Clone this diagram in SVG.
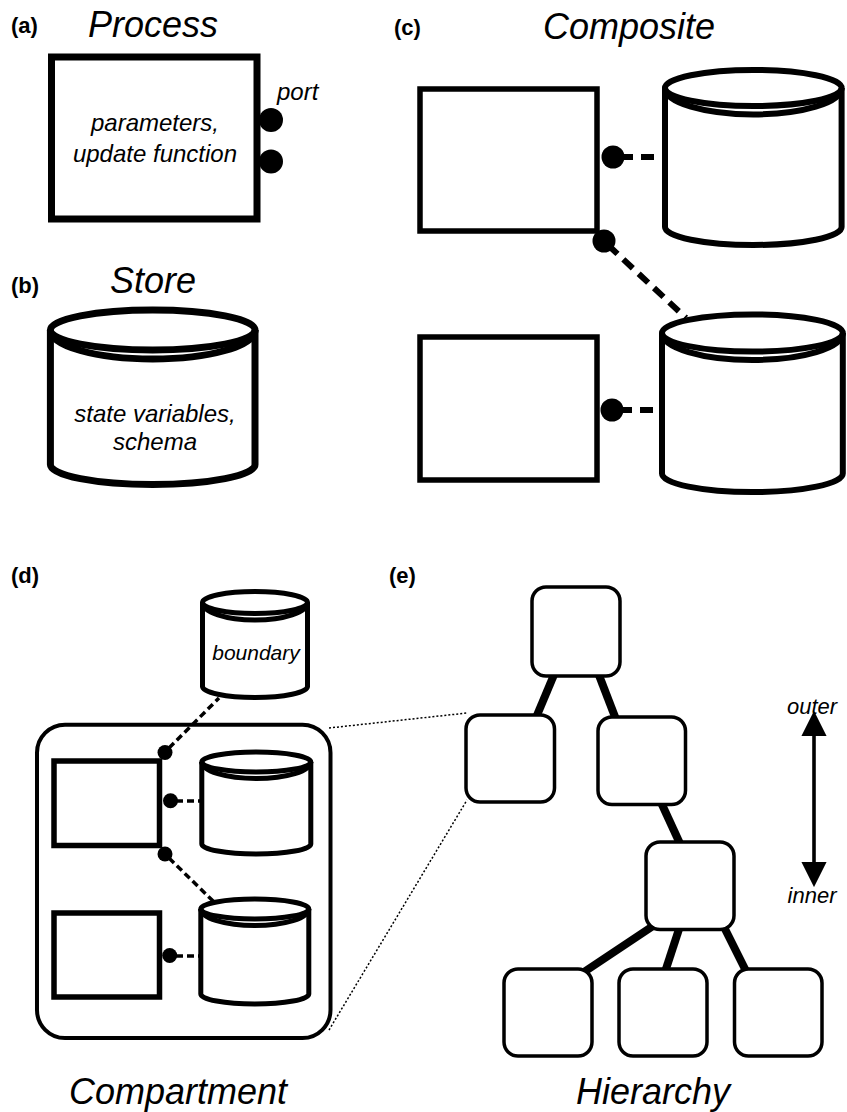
<svg xmlns="http://www.w3.org/2000/svg" width="847" height="1112" viewBox="0 0 847 1112">
<defs>
<style>
text{font-family:"Liberation Sans",Arial,sans-serif;fill:#000}
.lbl{font-weight:bold;font-size:22px}
.title{font-style:italic;font-size:36px;text-anchor:middle}
.it{font-style:italic;font-size:24px;text-anchor:middle}
.sm{font-style:italic;font-size:22px;text-anchor:middle}
.box{fill:#fff;stroke:#000}
.cyl{fill:#fff;stroke:#000}
.arc{fill:none;stroke:#000}
.port{fill:#000}
.dashB{fill:none;stroke:#000;stroke-width:6;stroke-dasharray:13 8}
.dashS{fill:none;stroke:#000;stroke-width:3.5;stroke-dasharray:7 4}
.dot{fill:none;stroke:#000;stroke-width:1.5;stroke-dasharray:2 2}
.edge{stroke:#000;stroke-width:8;fill:none}
.hbox{fill:#fff;stroke:#000;stroke-width:3.5}
</style>
<marker id="ah" viewBox="0 0 10 10" refX="2" refY="5" markerWidth="7" markerHeight="7" orient="auto-start-reverse" markerUnits="strokeWidth">
<path d="M0,0 L10,5 L0,10 Z" fill="#000"/>
</marker>
</defs>
<rect width="847" height="1112" fill="#fff"/>

<!-- labels -->
<g id="labels">
<text class="lbl" x="11" y="33">(a)</text>
<text class="title" x="153" y="37">Process</text>
<text class="lbl" x="11" y="293">(b)</text>
<text class="title" x="153" y="293">Store</text>
<text class="lbl" x="394" y="35">(c)</text>
<text class="title" x="629" y="39">Composite</text>
<text class="lbl" x="11" y="583">(d)</text>
<text class="lbl" x="389" y="583">(e)</text>
<text class="title" x="178" y="1104">Compartment</text>
<text class="title" x="653" y="1104">Hierarchy</text>
</g>

<!-- connectors -->
<g id="connectors">
<line class="dashB" x1="620" y1="157" x2="665" y2="157"/>
<line class="dashB" x1="608" y1="245" x2="686" y2="318"/>
<line class="dashB" x1="619" y1="410" x2="662" y2="410"/>
<line class="dashS" x1="169" y1="748" x2="219" y2="698"/>
<line class="dashS" x1="176" y1="801" x2="202" y2="801"/>
<line class="dashS" x1="169" y1="858" x2="214" y2="902"/>
<line class="dashS" x1="176" y1="956" x2="201" y2="956"/>
<line class="dot" x1="329" y1="728" x2="467" y2="713"/>
<line class="dot" x1="329" y1="1030" x2="467" y2="800"/>
<line class="edge" x1="556" y1="670" x2="535" y2="720"/>
<line class="edge" x1="597" y1="670" x2="617" y2="722"/>
<line class="edge" x1="659" y1="798" x2="682" y2="848"/>
<line class="edge" x1="656" y1="924" x2="584" y2="972"/>
<line class="edge" x1="681" y1="923" x2="664" y2="975"/>
<line class="edge" x1="722" y1="923" x2="748" y2="975"/>
<line x1="814" y1="731" x2="814" y2="867" stroke="#000" stroke-width="3.6" marker-start="url(#ah)" marker-end="url(#ah)"/>
<text class="sm" x="812" y="714">outer</text>
<text class="sm" x="812" y="903">inner</text>
</g>

<!-- (a) process -->
<g id="process-a">
<rect class="box" x="51.5" y="57" width="205.5" height="162" stroke-width="7"/>
<text class="it" x="155" y="131">parameters,</text>
<text class="it" x="155" y="162">update function</text>
<circle class="port" cx="271" cy="120" r="12"/>
<circle class="port" cx="271" cy="161.5" r="12"/>
<text style="font-style:italic;font-size:24px" x="277" y="100">port</text>
</g>

<!-- (b) store -->
<g id="store-b" stroke-width="7">
<path class="cyl" d="M50.4,330 V464.5 A102.3,20 0 0 0 255,464.5 V330"/>
<ellipse class="cyl" cx="152.7" cy="330" rx="102.3" ry="20"/>
<path class="arc" d="M50.4,330 A102.3,29 0 0 0 255,330"/>
<text class="it" x="155" y="422">state variables,</text>
<text class="it" x="155" y="450">schema</text>
</g>

<!-- (c) composite -->
<g id="c-process-1">
<rect class="box" x="420" y="89" width="177" height="142" stroke-width="5.5"/>
<circle class="port" cx="613" cy="157" r="11.5"/>
<circle class="port" cx="604" cy="241" r="11.5"/>
</g>
<g id="c-store-1" stroke-width="6">
<path class="cyl" d="M665,88 V227 A88.3,18 0 0 0 841.6,227 V88"/>
<ellipse class="cyl" cx="753.3" cy="88" rx="88.3" ry="18"/>
<path class="arc" d="M665,88 A88.3,26.5 0 0 0 841.6,88"/>
</g>
<g id="c-process-2">
<rect class="box" x="420" y="337" width="177" height="143" stroke-width="5.5"/>
<circle class="port" cx="612" cy="410" r="11.5"/>
</g>
<g id="c-store-2" stroke-width="6">
<path class="cyl" d="M662,333 V473.5 A90.4,18.6 0 0 0 842.8,473.5 V333"/>
<ellipse class="cyl" cx="752.4" cy="333" rx="90.4" ry="18.6"/>
<path class="arc" d="M662,333 A90.4,27 0 0 0 842.8,333"/>
</g>

<!-- (d) compartment -->
<g id="d-compartment">
<rect x="37" y="724.7" width="293.5" height="313.3" rx="28" fill="none" stroke="#000" stroke-width="4"/>
</g>
<g id="d-boundary" stroke-width="5">
<path class="cyl" d="M202.5,602.5 V686.5 A52.5,11 0 0 0 307.5,686.5 V602.5"/>
<ellipse class="cyl" cx="255" cy="602.5" rx="52.5" ry="11"/>
<path class="arc" d="M202.5,602.5 A52.5,17.5 0 0 0 307.5,602.5"/>
<text style="font-style:italic;font-size:21px;text-anchor:middle" x="256" y="660">boundary</text>
</g>
<g id="d-process-1">
<rect class="box" x="54" y="761" width="105.5" height="84.5" stroke-width="5.5"/>
<circle class="port" cx="165" cy="752.5" r="7.5"/>
<circle class="port" cx="170.5" cy="800.8" r="7.5"/>
<circle class="port" cx="165" cy="854" r="7.5"/>
</g>
<g id="d-store-1" stroke-width="5">
<path class="cyl" d="M201.8,762 V844 A54.5,10 0 0 0 310.8,844 V762"/>
<ellipse class="cyl" cx="256.3" cy="762" rx="54.5" ry="10"/>
<path class="arc" d="M201.8,762 A54.5,16.5 0 0 0 310.8,762"/>
</g>
<g id="d-process-2">
<rect class="box" x="54" y="913" width="105.5" height="84" stroke-width="5.5"/>
<circle class="port" cx="169.7" cy="955.5" r="7.5"/>
</g>
<g id="d-store-2" stroke-width="5">
<path class="cyl" d="M200.8,909 V994 A54,10 0 0 0 308.8,994 V909"/>
<ellipse class="cyl" cx="254.8" cy="909" rx="54" ry="10"/>
<path class="arc" d="M200.8,909 A54,16.5 0 0 0 308.8,909"/>
</g>

<!-- (e) hierarchy -->
<g id="h-root"><rect class="hbox" x="532" y="587" width="88" height="89" rx="14"/></g>
<g id="h-left"><rect class="hbox" x="466" y="715" width="88.5" height="87" rx="14"/></g>
<g id="h-right"><rect class="hbox" x="598" y="717" width="87.5" height="87.5" rx="14"/></g>
<g id="h-mid"><rect class="hbox" x="646" y="842" width="88" height="87.5" rx="14"/></g>
<g id="h-leaf-1"><rect class="hbox" x="504" y="969" width="88" height="87" rx="14"/></g>
<g id="h-leaf-2"><rect class="hbox" x="619" y="969" width="88" height="87" rx="14"/></g>
<g id="h-leaf-3"><rect class="hbox" x="734.5" y="969" width="87.5" height="87" rx="14"/></g>
</svg>
